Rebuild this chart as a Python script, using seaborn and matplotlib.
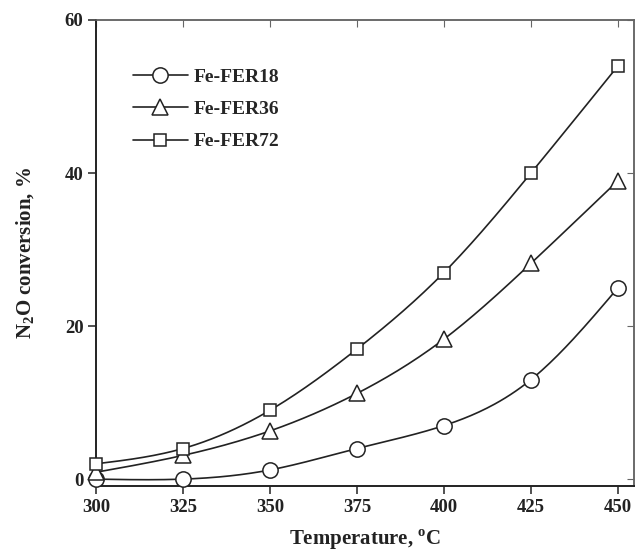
import numpy as np
import matplotlib
matplotlib.use("Agg")
import matplotlib.pyplot as plt
import seaborn as sns
import pandas as pd
from matplotlib.lines import Line2D

temperature = [300, 325, 350, 375, 400, 425, 450]
fer18 = [0.0, 0.0, 1.2, 4.0, 7.0, 13.0, 25.0]
fer36 = [0.9, 3.1, 6.3, 11.2, 18.3, 28.2, 39.0]
fer72 = [2.0, 4.0, 9.0, 17.0, 27.0, 40.0, 54.0]
series_names = ["Fe-FER18", "Fe-FER36", "Fe-FER72"]
x_ticks = [300, 325, 350, 375, 400, 425, 450]
y_ticks = [0, 20, 40, 60]

sns.set_style("ticks")
plt.rcParams['font.family'] = ['Liberation Serif', 'DejaVu Serif']
plt.rcParams['font.weight'] = 'bold'
plt.rcParams['mathtext.fontset'] = 'custom'
plt.rcParams['mathtext.rm'] = 'Liberation Serif:bold'
plt.rcParams['mathtext.bf'] = 'Liberation Serif:bold'

INK = "#222222"


def natural_spline(x, y, n=200):
    x = np.asarray(x, float); y = np.asarray(y, float)
    k = len(x); h = np.diff(x)
    A = np.zeros((k, k)); b = np.zeros(k)
    A[0, 0] = 1; A[-1, -1] = 1
    for i in range(1, k - 1):
        A[i, i - 1] = h[i - 1]; A[i, i] = 2 * (h[i - 1] + h[i]); A[i, i + 1] = h[i]
        b[i] = 6 * ((y[i + 1] - y[i]) / h[i] - (y[i] - y[i - 1]) / h[i - 1])
    M = np.linalg.solve(A, b)
    xs = np.linspace(x[0], x[-1], n); ys = np.empty_like(xs)
    for j, xv in enumerate(xs):
        i = min(np.searchsorted(x, xv, side='right') - 1, k - 2)
        t0 = x[i + 1] - xv; t1 = xv - x[i]
        ys[j] = (M[i] * t0**3 + M[i + 1] * t1**3) / (6 * h[i]) + \
            (y[i] / h[i] - M[i] * h[i] / 6) * t0 + (y[i + 1] / h[i] - M[i + 1] * h[i] / 6) * t1
    return xs, ys


fig = plt.figure(figsize=(6.35, 5.55), dpi=100)
ax = fig.add_axes([0.1512, 0.1243, 0.8472, 0.8397])

df = pd.DataFrame({"T": temperature * 3,
                   "conv": fer18 + fer36 + fer72,
                   "series": sum([[s] * len(temperature) for s in series_names], [])})

markers = {"Fe-FER18": ("o", 11), "Fe-FER36": ("^", 12), "Fe-FER72": ("s", 9)}
for name, vals in zip(series_names, [fer18, fer36, fer72]):
    xs, ys = natural_spline(temperature, vals)
    sns.lineplot(x=xs, y=ys, ax=ax, color=INK, lw=1.2, zorder=2)
    m, ms = markers[name]
    sub = df[df.series == name]
    ax.plot(sub["T"], sub["conv"], linestyle='none', marker=m, markersize=ms,
            markerfacecolor='white', markeredgecolor=INK, markeredgewidth=1.1,
            zorder=3, clip_on=False)

handles = [Line2D([], [], color=INK, lw=1.2, marker=markers[n][0], markersize=markers[n][1],
                  markerfacecolor='white', markeredgecolor=INK, markeredgewidth=1.1)
           for n in series_names]
leg = ax.legend(handles, series_names, loc='upper left', bbox_to_anchor=(0.069, 0.896),
                frameon=False, handlelength=2.8, handletextpad=0.3, labelspacing=0.75,
                borderaxespad=0, borderpad=0,
                prop={'family': 'Liberation Serif', 'weight': 'bold', 'size': 14})

ax.set_xlim(300, 454.6)
ax.set_ylim(-0.9, 60)
ax.set_xticks(x_ticks)
ax.set_yticks(y_ticks)
ax.tick_params(axis='both', which='major', labelsize=13.5, direction='out', length=6, width=1.1,
               colors=INK, pad=3)
for lab in ax.get_xticklabels() + ax.get_yticklabels():
    lab.set_fontweight('bold')
    lab.set_fontfamily('Liberation Serif')
    lab.set_color(INK)

sec_x = ax.secondary_xaxis('top')
sec_x.set_xticks(x_ticks)
sec_x.tick_params(direction='in', length=5, labeltop=False, colors='#666666')
sec_y = ax.secondary_yaxis('right')
sec_y.set_yticks(y_ticks)
sec_y.tick_params(direction='in', length=5, labelright=False, colors='#666666')

for side, sp in ax.spines.items():
    sp.set_visible(True)
    if side in ('left', 'bottom'):
        sp.set_linewidth(1.4); sp.set_color(INK)
    else:
        sp.set_linewidth(1.1); sp.set_color('#666666')
for s in (sec_x, sec_y):
    for sp in s.spines.values():
        sp.set_linewidth(1.1)
        sp.set_color('#666666')

ax.set_xlabel(r'Temperature, $^{\mathregular{o}}$C', fontsize=15, fontweight='bold', color=INK, labelpad=9)
ax.set_ylabel(r'N$_{\mathregular{2}}$O conversion, %', fontsize=15, fontweight='bold', color=INK, labelpad=20)

fig.savefig("out.png", dpi=100)
